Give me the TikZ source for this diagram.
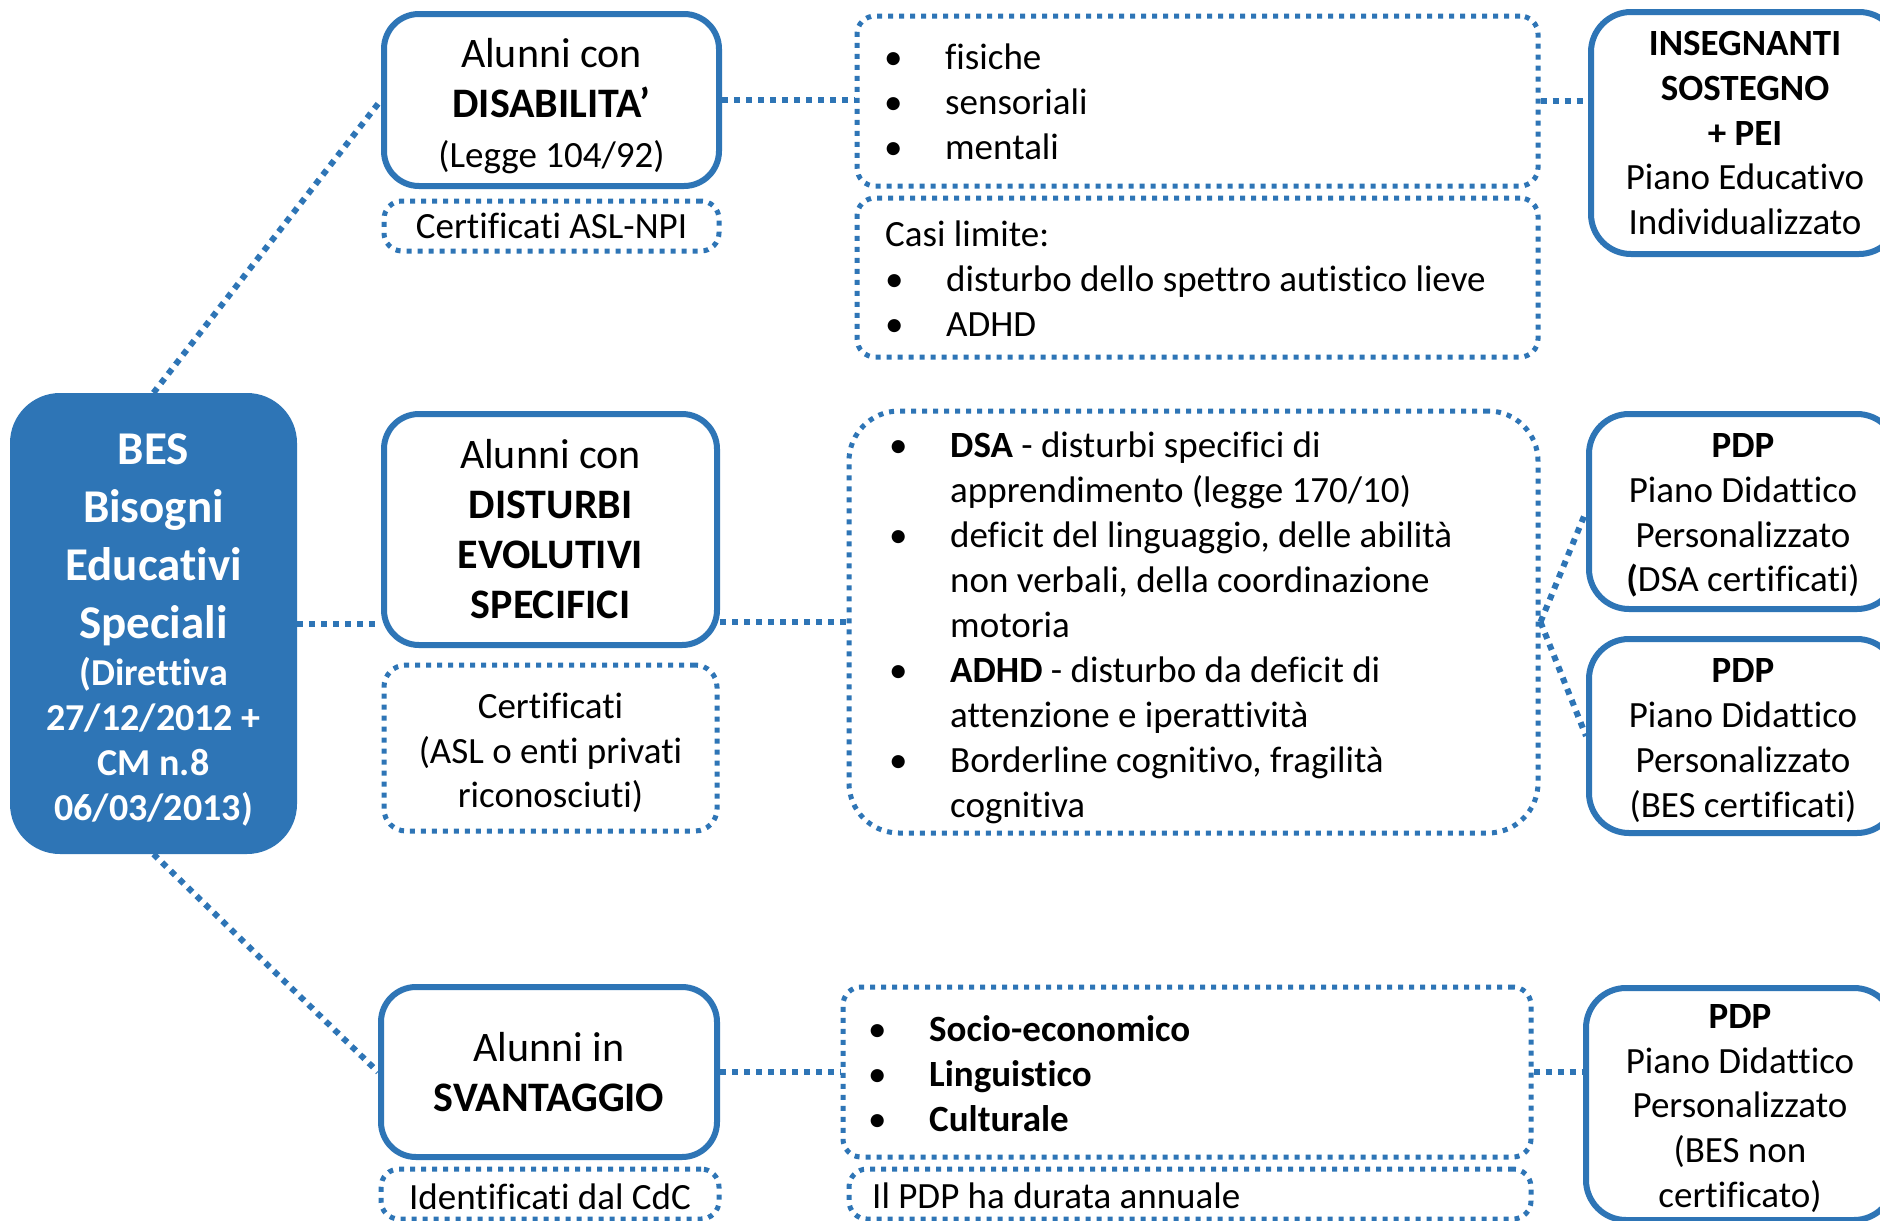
\documentclass[tikz,border=0pt]{standalone}
\usepackage{fontspec}
\setmainfont{Carlito}[Ligatures={NoCommon,NoContextual}]
\definecolor{bl}{RGB}{46,117,182}
\newcommand\fsz[2]{\fontsize{#1}{#2}\selectfont}
\newcommand\bul{\makebox[61pt][l]{\textbullet}}
\newcommand\ind{\hspace*{61pt}}
\begin{document}
\begin{tikzpicture}[x=1pt,y=-1pt,
  solidbox/.style={draw=bl, line width=6pt, rounded corners=35pt, fill=white, align=center, inner sep=0pt},
  dotbox/.style={draw=bl, line width=5pt, dash pattern=on 5pt off 6pt, rounded corners=18pt, inner sep=0pt, align=center},
  conn/.style={draw=bl, line width=6pt, dash pattern=on 6pt off 6pt},
  listtext/.style={anchor=west, align=left, inner sep=0pt, font=\fsz{37}{45}},
  ctext/.style={align=center, inner sep=0pt},
  bigtext/.style={font=\fsz{42}{50}},
  smalltext/.style={font=\fsz{37}{44.8}}
]
\useasboundingbox (0,0) rectangle (1880,1221);
\clip (0,0) rectangle (1880,1221);
\fill[white] (0,0) rectangle (1880,1221);

% BES
\node[fill=bl, rounded corners=50pt, minimum width=287pt, minimum height=461pt, inner sep=0pt] (bes) at (153.5,623.5) {};
\node[ctext, text=white, font=\fsz{38}{45}\bfseries] (best) at (153.5,630)
  {{\fsz{47}{58}BES}\\[13pt]{\fsz{47}{58}Bisogni}\\[13pt]{\fsz{47}{58}Educativi}\\[13pt]{\fsz{47}{58}Speciali}\\[2pt]
   (Direttiva\\27/12/2012 +\\CM n.8\\06/03/2013)};

% Column 1
\node[solidbox, minimum width=335pt, minimum height=172pt] (dis) at (551.5,100) {};
\node[ctext, bigtext] (dist1) at (551.5,106)
  {Alunni con\\\textbf{DISABILITA’}\\{\fsz{37}{44}(Legge 104/92)}};
\node[dotbox, smalltext, minimum width=335pt, minimum height=50pt] (cert1) at (551.5,226)
  {Certificati ASL-NPI};
\node[solidbox, bigtext, minimum width=333pt, minimum height=231pt] (dist) at (550.5,529.5)
  {Alunni con\\\textbf{DISTURBI}\\\textbf{EVOLUTIVI}\\\textbf{SPECIFICI}};
\node[dotbox, rounded corners=22pt, minimum width=333pt, minimum height=166pt] (cert2) at (550.5,748) {};
\node[ctext, smalltext] (cert2t) at (550.5,753)
  {Certificati\\(ASL o enti privati\\riconosciuti)};
\node[solidbox, bigtext, minimum width=336pt, minimum height=170pt] (sva) at (549,1072)
  {Alunni in\\\textbf{SVANTAGGIO}};
\node[dotbox, minimum width=338pt, minimum height=50pt] (ident) at (550,1194) {};
\node[ctext, smalltext] (identt) at (550,1197) {Identificati dal CdC};

% Column 2
\node[dotbox, minimum width=681pt, minimum height=170pt] (fis) at (1197.5,101) {};
\node[listtext] (fist) at (884,102)
  {\bul fisiche\\\bul sensoriali\\\bul mentali};
\node[dotbox, minimum width=681pt, minimum height=159pt] (casi) at (1197.5,277.5) {};
\node[listtext] (casit) at (885,279)
  {Casi limite:\\\bul disturbo dello spettro autistico lieve\\\bul ADHD};
\node[dotbox, rounded corners=50pt, minimum width=689pt, minimum height=422pt] (dsa) at (1193.5,622) {};
\node[listtext] (dsat) at (889,628)
  {\bul\textbf{DSA} - disturbi specifici di\\
   \ind apprendimento (legge 170/10)\\
   \bul deficit del linguaggio, delle abilità\\
   \ind non verbali, della coordinazione\\
   \ind motoria\\
   \bul\textbf{ADHD} - disturbo da deficit di\\
   \ind attenzione e iperattività\\
   \bul Borderline cognitivo, fragilità\\
   \ind cognitiva};
\node[dotbox, minimum width=688pt, minimum height=170pt] (soc) at (1187,1072) {};
\node[listtext] (soct) at (868,1073.5)
  {\bul\textbf{Socio-economico}\\\bul\textbf{Linguistico}\\\bul\textbf{Culturale}};
\node[dotbox, minimum width=682pt, minimum height=50pt] (dur) at (1190,1194) {};
\node[listtext] (durt) at (872,1196) {Il PDP ha durata annuale};

% Column 3
\node[solidbox, smalltext, rounded corners=40pt, minimum width=308pt, minimum height=242pt] (ins) at (1745,133)
  {\textbf{INSEGNANTI}\\\textbf{SOSTEGNO}\\\textbf{+ PEI}\\Piano Educativo\\Individualizzato};
\node[solidbox, rounded corners=40pt, minimum width=308pt, minimum height=195pt] (pdp1) at (1743,511.5) {};
\node[ctext, smalltext] (pdp1t) at (1743,515.5)
  {\textbf{PDP}\\Piano Didattico\\Personalizzato\\\textbf{(}DSA certificati)};
\node[solidbox, rounded corners=40pt, minimum width=308pt, minimum height=194pt] (pdp2) at (1743,736) {};
\node[ctext, smalltext] (pdp2t) at (1743,740.5)
  {\textbf{PDP}\\Piano Didattico\\Personalizzato\\(BES certificati)};
\node[solidbox, rounded corners=40pt, minimum width=308pt, minimum height=232pt] (pdp3) at (1740,1104) {};
\node[ctext, smalltext] (pdp3t) at (1740,1108.5)
  {\textbf{PDP}\\Piano Didattico\\Personalizzato\\(BES non\\certificato)};

% Connectors
\draw[conn] (bes.north) -- (dis.west);
\draw[conn] (bes.south) -- (sva.west);
\draw[conn] (bes.east) -- (bes.east -| dist.west);
\draw[conn] (dis.east) -- (dis.east -| fis.west);
\draw[conn] (fis.east) -- (fis.east -| ins.west);
\draw[conn] (dist.east |- dsa.west) -- (dsa.west);
\draw[conn] (dsa.east) -- (pdp1.west);
\draw[conn] (dsa.east) -- (pdp2.west);
\draw[conn] (sva.east) -- (soc.west);
\draw[conn] (soc.east) -- (soc.east -| pdp3.west);
\end{tikzpicture}
\end{document}
